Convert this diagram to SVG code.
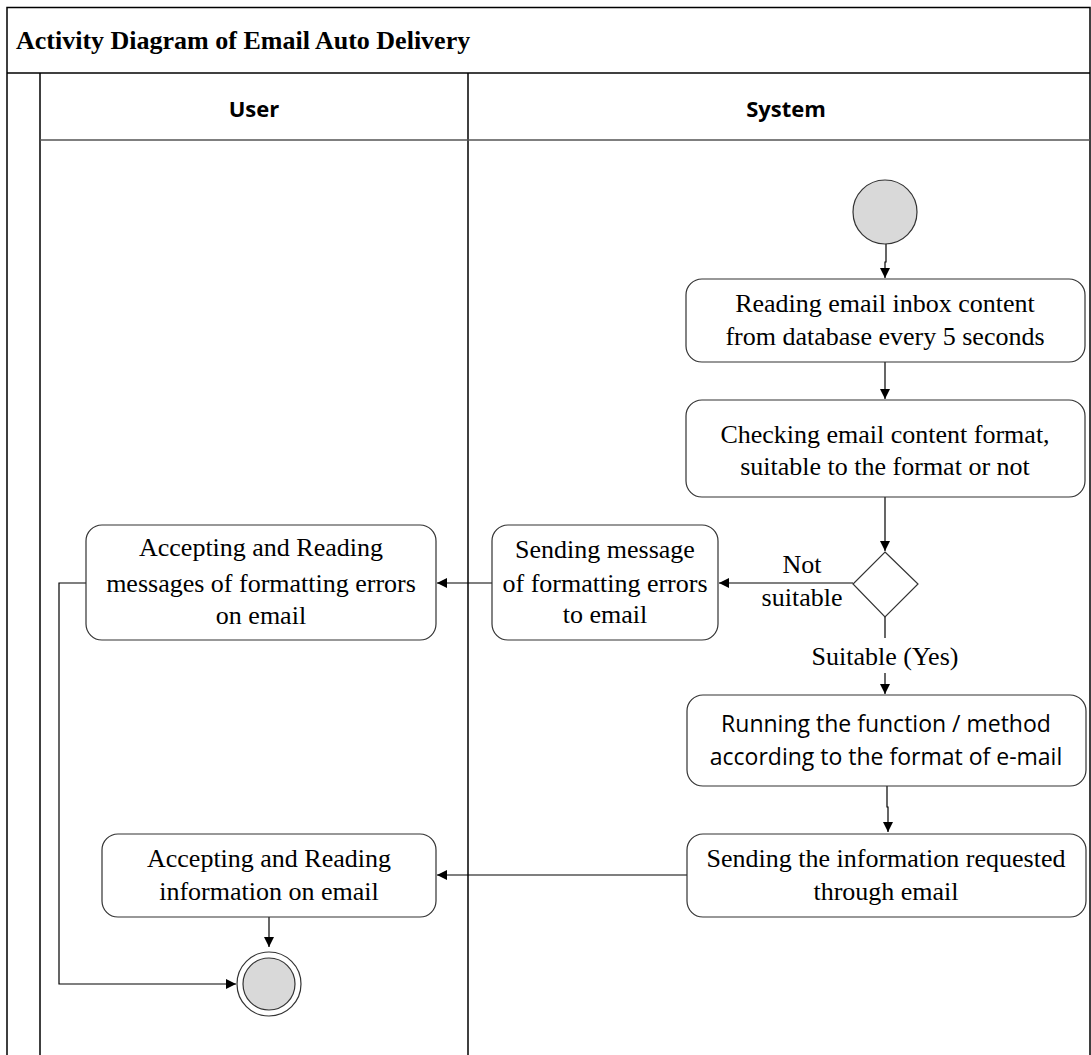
<svg xmlns="http://www.w3.org/2000/svg" width="1091" height="1055" viewBox="0 0 1091 1055">
<style>
.pool{fill:none;stroke:#000;stroke-width:1.5}
.hdr{fill:none;stroke:#555;stroke-width:1.5}
.box{fill:#fff;stroke:#333;stroke-width:1.2}
.t{font-family:"Liberation Serif","Times New Roman",serif;font-size:26px;fill:#000;text-anchor:middle}
.s{font-family:"Open Sans","Liberation Sans",sans-serif;font-size:23px;fill:#000;text-anchor:middle}
.h{font-family:"Open Sans","Liberation Sans",sans-serif;font-size:22px;font-weight:bold;fill:#000;text-anchor:middle}
.title{font-family:"Liberation Serif","Times New Roman",serif;font-size:26px;font-weight:bold;fill:#000}
.c{fill:none;stroke:#000;stroke-width:1.2}
.dot{fill:#d9d9d9;stroke:#333;stroke-width:1.2}
</style>
<defs>
<marker id="arr" viewBox="0 0 10 10" refX="10" refY="5" markerWidth="10" markerHeight="10" markerUnits="userSpaceOnUse" orient="auto">
<path d="M0,0 L10,5 L0,10 Z" fill="#000"/>
</marker>
</defs>
<rect x="0" y="0" width="1091" height="1055" fill="#fff"/>
<g id="pool">
<path class="pool" d="M7,1055 V7.5 H1090 V1055"/>
<line class="pool" x1="7" y1="73" x2="1090" y2="73"/>
<line class="pool" x1="40" y1="73" x2="40" y2="1055"/>
<line class="pool" x1="468" y1="73" x2="468" y2="1055"/>
<line class="hdr" x1="40" y1="140" x2="1090" y2="140"/>
<text class="title" x="16" y="49">Activity Diagram of Email Auto Delivery</text>
<text class="h" x="254" y="117">User</text>
<text class="h" x="786" y="117">System</text>
</g>
<g id="connectors">
<path class="c" d="M886,244 V262 H885 V278" marker-end="url(#arr)"/>
<line class="c" x1="885" y1="362" x2="885" y2="399" marker-end="url(#arr)"/>
<line class="c" x1="885" y1="497" x2="885" y2="551" marker-end="url(#arr)"/>
<line class="c" x1="853" y1="583" x2="719" y2="583" marker-end="url(#arr)"/>
<line class="c" x1="885" y1="617" x2="885" y2="638"/>
<line class="c" x1="885" y1="673" x2="885" y2="694" marker-end="url(#arr)"/>
<path class="c" d="M887,786 V807 H888 V832" marker-end="url(#arr)"/>
<line class="c" x1="687" y1="875" x2="437" y2="875" marker-end="url(#arr)"/>
<line class="c" x1="492" y1="583" x2="437" y2="583" marker-end="url(#arr)"/>
<line class="c" x1="269" y1="917" x2="269" y2="947" marker-end="url(#arr)"/>
<path class="c" d="M86,583 H59 V984 H236" marker-end="url(#arr)"/>
<text class="t" x="802" y="573">Not</text>
<text class="t" x="802" y="606">suitable</text>
<text class="t" x="885" y="665">Suitable (Yes)</text>
</g>
<g id="start"><circle class="dot" cx="885" cy="212" r="32"/></g>
<g id="read-inbox">
<rect class="box" x="686" y="279" width="399" height="83" rx="16"/>
<text class="t" x="885" y="312">Reading email inbox content</text>
<text class="t" x="885" y="345"> from database every 5 seconds</text>
</g>
<g id="check-format">
<rect class="box" x="686" y="400" width="399" height="97" rx="16"/>
<text class="t" x="885" y="443">Checking email content format,</text>
<text class="t" x="885" y="475">suitable to the format or not</text>
</g>
<g id="decision"><polygon class="box" points="885,552 918,584 885,617 853,584"/></g>
<g id="send-error">
<rect class="box" x="492" y="525" width="226" height="115" rx="16"/>
<text class="t" x="605" y="558">Sending message</text>
<text class="t" x="605" y="592">of formatting errors</text>
<text class="t" x="605" y="623">to email</text>
</g>
<g id="accept-error">
<rect class="box" x="86" y="525" width="350" height="115" rx="16"/>
<text class="t" x="261" y="556">Accepting and Reading</text>
<text class="t" x="261" y="592">messages of formatting errors</text>
<text class="t" x="261" y="624">on email</text>
</g>
<g id="run-function">
<rect class="box" x="687" y="695" width="399" height="91" rx="16"/>
<text class="s" x="886" y="732">Running the function / method</text>
<text class="s" x="886" y="765">according to the format of e-mail</text>
</g>
<g id="send-info">
<rect class="box" x="687" y="834" width="399" height="83" rx="16"/>
<text class="t" x="886" y="867">Sending the information requested</text>
<text class="t" x="886" y="900">through email</text>
</g>
<g id="accept-info">
<rect class="box" x="102" y="834" width="334" height="83" rx="16"/>
<text class="t" x="269" y="867">Accepting and Reading</text>
<text class="t" x="269" y="900">information on email</text>
</g>
<g id="end">
<circle cx="269" cy="984" r="32" fill="#fff" stroke="#333" stroke-width="1.2"/>
<circle class="dot" cx="269" cy="984" r="26"/>
</g>
</svg>
